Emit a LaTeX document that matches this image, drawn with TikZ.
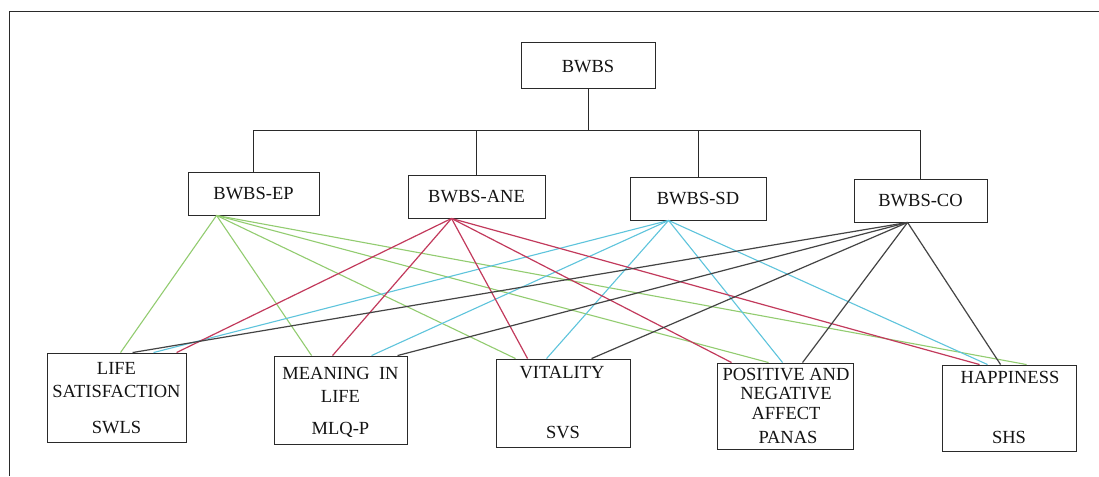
\documentclass[tikz,border=0pt]{standalone}
\usepackage{fontspec}
\setmainfont{Liberation Serif}
\definecolor{frame}{HTML}{2A2A2A}
\definecolor{epc}{HTML}{92CC70}
\definecolor{anec}{HTML}{C23A5C}
\definecolor{sdc}{HTML}{5EC4DC}
\definecolor{coc}{HTML}{444444}
\begin{document}
\begin{tikzpicture}[x=1pt,y=-1pt,
  box/.style={draw=frame,line width=0.9pt,inner sep=0pt,rectangle},
  lbl/.style={inner sep=0pt,font=\fontsize{18.5}{20}\selectfont,text=black!92},
  tree/.style={draw=frame,line width=0.9pt},
  epl/.style={draw=epc,line width=1.1pt},
  anel/.style={draw=anec,line width=1.2pt},
  sdl/.style={draw=sdc,line width=1.1pt},
  col/.style={draw=coc,line width=1.2pt}]
\useasboundingbox (0,0) rectangle (1099,476);
\fill[white] (0,0) rectangle (1099,476);
\draw[frame,line width=1pt] (9,476) -- (9,11.5) -- (1099,11.5);
% top boxes
\node[box,minimum width=134pt,minimum height=46pt] (bwbs) at (588,65) {};
\node[lbl] (tbwbs) at (588,67) {BWBS};
\node[box,minimum width=131pt,minimum height=43pt] (ep) at (253.5,193.5) {};
\node[lbl] (tep) at (253.5,194) {BWBS-EP};
\node[box,minimum width=137pt,minimum height=43pt] (ane) at (476.5,196.5) {};
\node[lbl] (tane) at (476.5,197) {BWBS-ANE};
\node[box,minimum width=136pt,minimum height=43pt] (sd) at (698,198.5) {};
\node[lbl] (tsd) at (698,199) {BWBS-SD};
\node[box,minimum width=133pt,minimum height=43pt] (co) at (920.5,200.5) {};
\node[lbl] (tco) at (920.5,201) {BWBS-CO};
% tree
\coordinate (j) at (588,130);
\draw[tree] (bwbs.south) -- (j);
\draw[tree] (ep.north) -- (ep.north |- j) -- (co.north |- j) -- (co.north);
\draw[tree] (ane.north) -- (ane.north |- j);
\draw[tree] (sd.north) -- (sd.north |- j);
% bottom boxes
\node[box,minimum width=139pt,minimum height=89pt] (ls) at (116.5,397.5) {};
\node[lbl] (tls1) at (116.5,368) {LIFE};
\node[lbl] (tls2) at (116.5,391) {SATISFACTION};
\node[lbl] (tls3) at (116.5,428) {SWLS};
\node[box,minimum width=133pt,minimum height=88pt] (ml) at (340.5,400) {};
\node[lbl] (tml1) at (340.5,373) {MEANING\ \ IN};
\node[lbl] (tml2) at (340.5,396) {LIFE};
\node[lbl] (tml3) at (340.5,430) {MLQ-P};
\node[box,minimum width=134pt,minimum height=88pt] (vi) at (563,403) {};
\node[lbl] (tvi1) at (562,373) {VITALITY};
\node[lbl] (tvi2) at (563,433) {SVS};
\node[box,minimum width=136pt,minimum height=86pt] (pa) at (785,406) {};
\node[lbl] (tpa1) at (786,375) {POSITIVE AND};
\node[lbl] (tpa2) at (786,394) {NEGATIVE};
\node[lbl] (tpa3) at (786,413) {AFFECT};
\node[lbl] (tpa4) at (788,437) {PANAS};
\node[box,minimum width=134pt,minimum height=86pt] (ha) at (1009,408) {};
\node[lbl] (tha1) at (1010,377) {HAPPINESS};
\node[lbl] (tha2) at (1009,437) {SHS};
% origins
\coordinate (oep) at ([xshift=29pt]ep.south west);
\coordinate (oane) at ([xshift=44pt]ane.south west);
\coordinate (osd) at ([xshift=39pt]sd.south west);
\coordinate (oco) at ([xshift=54pt]co.south west);
% green (EP)
\draw[epl] (oep) -- ([xshift=74pt]ls.north west);
\draw[epl] (oep) -- ([xshift=38pt]ml.north west);
\draw[epl] (oep) -- ([xshift=20pt]vi.north west);
\draw[epl] (oep) -- ([xshift=52pt]pa.north west);
\draw[epl] (oep) -- ([xshift=85pt]ha.north west);
% cyan (SD)
\draw[sdl] (osd) -- ([xshift=107pt]ls.north west);
\draw[sdl] (osd) -- ([xshift=98pt]ml.north west);
\draw[sdl] (osd) -- ([xshift=51pt]vi.north west);
\draw[sdl] (osd) -- ([xshift=66pt]pa.north west);
\draw[sdl] (osd) -- ([xshift=46pt]ha.north west);
% red (ANE)
\draw[anel] (oane) -- ([xshift=130pt]ls.north west);
\draw[anel] (oane) -- ([xshift=59pt]ml.north west);
\draw[anel] (oane) -- ([xshift=32pt]vi.north west);
\draw[anel] (oane) -- ([xshift=15pt]pa.north west);
\draw[anel] (oane) -- ([xshift=38pt]ha.north west);
% gray (CO)
\draw[col] (oco) -- ([xshift=86pt]ls.north west);
\draw[col] (oco) -- ([xshift=124pt]ml.north west);
\draw[col] (oco) -- ([xshift=96pt]vi.north west);
\draw[col] (oco) -- ([xshift=86pt]pa.north west);
\draw[col] (oco) -- ([xshift=59pt]ha.north west);
\end{tikzpicture}
\end{document}
